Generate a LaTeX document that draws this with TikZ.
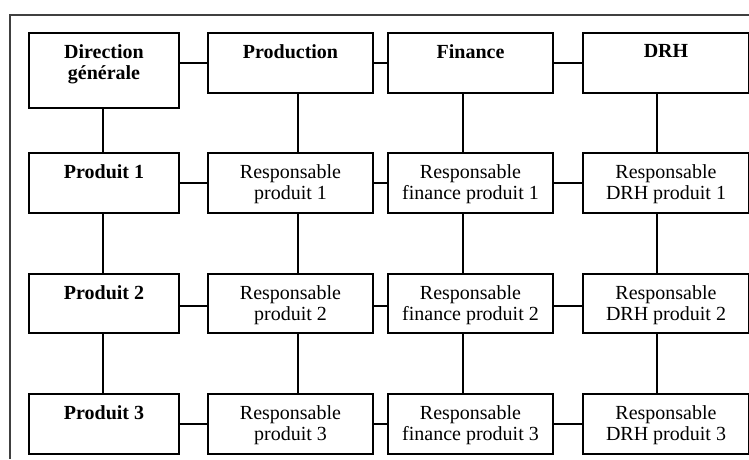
\documentclass[tikz,border=0pt]{standalone}
\usepackage{fontspec}
\setmainfont{Liberation Serif}
\begin{document}
\begin{tikzpicture}[x=1pt,y=-1pt,
  box/.style={draw, line width=2pt, inner sep=0pt, anchor=north west},
  lbl/.style={anchor=north, align=center, inner sep=0pt,
              font=\fontsize{20}{20.5}\selectfont},
  head/.style={lbl, font=\fontsize{20}{21}\selectfont\bfseries},
  link/.style={line width=1.6pt},
  thick link/.style={line width=2.3pt},
  frame/.style={draw=black!75, line width=2pt}]
\useasboundingbox (0,0) rectangle (749,459);

% outer frame (open on the right and at the bottom)
\draw[frame] (749,15) -- (10,15) -- (10,459);

% boxes: columns x = 28, 207, 387, 582 ; rows y = 32, 152, 273, 393
\node[box, minimum width=150pt, minimum height=75pt] (b11) at (28,32) {};
\node[box, minimum width=165pt, minimum height=60pt] (b12) at (207,32) {};
\node[box, minimum width=165pt, minimum height=60pt] (b13) at (387,32) {};
\node[box, minimum width=166pt, minimum height=60pt] (b14) at (582,32) {};

\node[box, minimum width=150pt, minimum height=60pt] (b21) at (28,152) {};
\node[box, minimum width=165pt, minimum height=60pt] (b22) at (207,152) {};
\node[box, minimum width=165pt, minimum height=60pt] (b23) at (387,152) {};
\node[box, minimum width=166pt, minimum height=60pt] (b24) at (582,152) {};

\node[box, minimum width=150pt, minimum height=59pt] (b31) at (28,273) {};
\node[box, minimum width=165pt, minimum height=59pt] (b32) at (207,273) {};
\node[box, minimum width=165pt, minimum height=59pt] (b33) at (387,273) {};
\node[box, minimum width=166pt, minimum height=59pt] (b34) at (582,273) {};

\node[box, minimum width=150pt, minimum height=60pt] (b41) at (28,393) {};
\node[box, minimum width=165pt, minimum height=60pt] (b42) at (207,393) {};
\node[box, minimum width=165pt, minimum height=60pt] (b43) at (387,393) {};
\node[box, minimum width=166pt, minimum height=60pt] (b44) at (582,393) {};

% texts
\node[head] (t11) at ([yshift=-12.5pt]b11.north) {Direction\\générale};
\node[head] (t12) at ([yshift=-12.5pt]b12.north) {Production};
\node[head] (t13) at ([yshift=-12.5pt]b13.north) {Finance};
\node[head] (t14) at ([yshift=-12.5pt]b14.north) {DRH};

\node[head] (t21) at ([yshift=-12.5pt]b21.north) {Produit 1};
\node[lbl] (t22) at ([yshift=-12.5pt]b22.north) {Responsable\\produit 1};
\node[lbl] (t23) at ([yshift=-12.5pt]b23.north) {Responsable\\finance produit 1};
\node[lbl] (t24) at ([yshift=-12.5pt]b24.north) {Responsable\\DRH produit 1};

\node[head] (t31) at ([yshift=-12.5pt]b31.north) {Produit 2};
\node[lbl] (t32) at ([yshift=-12.5pt]b32.north) {Responsable\\produit 2};
\node[lbl] (t33) at ([yshift=-12.5pt]b33.north) {Responsable\\finance produit 2};
\node[lbl] (t34) at ([yshift=-12.5pt]b34.north) {Responsable\\DRH produit 2};

\node[head] (t41) at ([yshift=-12.5pt]b41.north) {Produit 3};
\node[lbl] (t42) at ([yshift=-12.5pt]b42.north) {Responsable\\produit 3};
\node[lbl] (t43) at ([yshift=-12.5pt]b43.north) {Responsable\\finance produit 3};
\node[lbl] (t44) at ([yshift=-12.5pt]b44.north) {Responsable\\DRH produit 3};

% horizontal connectors
\draw[link] (b11.east |- b12.west) -- (b12.west);
\draw[link] (b12.east) -- (b13.west);
\draw[link] (b13.east) -- (b14.west);
\draw[link] (b21.east) -- (b22.west);
\draw[link] (b22.east) -- (b23.west);
\draw[link] (b23.east) -- (b24.west);
\draw[link] ([yshift=-2.5pt]b31.east) -- ([yshift=-2.5pt]b32.west);
\draw[link] ([yshift=-2.5pt]b32.east) -- ([yshift=-2.5pt]b33.west);
\draw[link] ([yshift=-2.5pt]b33.east) -- ([yshift=-2.5pt]b34.west);
\draw[thick link] (b41.east) -- (b42.west);
\draw[thick link] (b42.east) -- (b43.west);
\draw[thick link] (b43.east) -- (b44.west);

% vertical connectors
\draw[link] ([xshift=-1pt]b11.south) -- ([xshift=-1pt]b21.north);
\draw[link] ([xshift=-1pt]b21.south) -- ([xshift=-1pt]b31.north);
\draw[link] ([xshift=-1pt]b31.south) -- ([xshift=-1pt]b41.north);
\draw[link] ([xshift=7.5pt]b12.south) -- ([xshift=7.5pt]b22.north);
\draw[link] ([xshift=7.5pt]b22.south) -- ([xshift=7.5pt]b32.north);
\draw[link] ([xshift=7.5pt]b32.south) -- ([xshift=7.5pt]b42.north);
\draw[link] ([xshift=-7.5pt]b13.south) -- ([xshift=-7.5pt]b23.north);
\draw[link] ([xshift=-7.5pt]b23.south) -- ([xshift=-7.5pt]b33.north);
\draw[link] ([xshift=-7.5pt]b33.south) -- ([xshift=-7.5pt]b43.north);
\draw[thick link] ([xshift=-9pt]b14.south) -- ([xshift=-9pt]b24.north);
\draw[thick link] ([xshift=-9pt]b24.south) -- ([xshift=-9pt]b34.north);
\draw[thick link] ([xshift=-9pt]b34.south) -- ([xshift=-9pt]b44.north);
\end{tikzpicture}
\end{document}
